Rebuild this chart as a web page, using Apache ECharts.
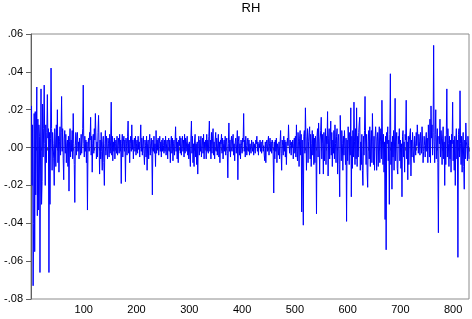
<!DOCTYPE html>
<html>
<head>
<meta charset="utf-8">
<script src="https://cdn.jsdelivr.net/npm/echarts@6/dist/echarts.min.js"></script>
<style>html,body{margin:0;padding:0;background:#fff}#c{width:472px;height:319px}</style>
</head>
<body>
<div id="c"></div>
<script>
const rh001 = [.022,-.02,.012,-.073,-.04,.018,-.055,.019,-.025,.004,.032,-.036,.015,-.033,.012,.006,-.066,-.005,.031,-.03,-.018,.023,-.005,.01,.033,.002,-.02,.012,-.008,.008,.028,.005,.01,-.066,.008,-.03,.005,.042,.01,-.012];
const rh041 = [.008,.002,-.006,-.02,.01,.004,-.01,.012,0,.02,-.008,.006,-.013,.003,.011,-.004,.008,.027,-.002,.01,-.006,-.017,.005,.009,-.003,.007,-.008,.002,.004,-.01,.006,-.023,.003,.01,-.005,.004,-.002,.009,-.006,.018,.002,-.009,-.029,.001,.008,-.004,.006,.008,-.002,.003,-.006,.005,0,-.004,.007,-.003,.004,.01,.033,.002,-.005,.006,-.002,.004,-.008,.003,-.033,0,.005,-.002,.008,.004,.016,-.004,.006,-.013,.002,.007,-.003,.01,.004,.018,.017,-.006,.003,-.005,.008,.017,.002,-.014];
const rh131 = [.004,-.006,.008,-.002,-.012,.003,.006,-.008,-.02,.002,.009,-.004,.006,0,-.006,.005,.002,-.005,.007,-.003,.004,.024,-.004,.006,-.007,.003,-.002,.005,-.006,.002,.004,-.003,.006,-.004,.001,.005,-.003,.007,-.002,.004,-.019,.002,.007,-.005,.003,.006,-.002,.004,-.018,.005,.002,-.004,.006,.014,-.003,.004,-.008,.002,.006,-.002,.012,-.001,.004,-.006,.003,.005,-.002,.006,-.004,.002,.004,-.003,.006,-.001,.003,-.005,.004,.012,-.002,.005,-.004,.002,.006,-.003,-.009,.004,.001,-.005,.006,-.012,.002,.004,-.006,.003,.007,-.004,.002,.005,-.003,-.025,.004,-.002,.006,-.003,.002,-.01,.009,-.003,.004,-.001,.005,-.004,.002,.006,-.002,.003,-.005,.004,-.002,.005,.001,-.003,.004,-.002,.006,-.004,.002,.004,-.006,.003,.005,-.002,.004,-.008,.002,.006,-.003,.005,-.007,.002,.004,-.004,.003,.011,-.002,.005,-.006,.003,-.008,.004,.001,.006,-.003,.005,-.004,.002,.006,-.002,.004,-.005,.007,-.003,.005,-.002,.003,.006,-.004,.002,-.006,.003];
const rh301 = [-.004,-.01,.005,.014,-.003,.006,-.008,.002,-.01,.004,.007,-.005,.002,-.009,.003,-.014,.002,.006,-.004,.004,-.002,.006,-.005,.001,.005,-.003,.007,-.006,.003,0,.004,-.006,.007,-.002,.004,-.003,.006,.014,-.002,.004,-.006,.008,-.003,.005,.01,-.004,.003,-.006,.004,.008,-.002,.005,-.004,.002,.007,-.005,.003,-.008,.004,.002,.007,-.003,.005,-.006,.002,.004,-.002,.006,-.004,.003,.005,-.003,-.016,.002,.013,-.002,.004,-.005,.003,.006,-.002,.004,.007,-.004,.002,-.007,.003,.005,-.003,.002,.009,-.017,.003,.006,-.004,.002,-.006,.004,.001,-.003,.005,.003,.018,-.002,.004,-.005,.006,.001,-.004,.003,.005,-.002,.004,-.004,.002,.003,-.003,.004,0,-.002,.003,-.004,.002,.001,-.003,.004,.002,.006,-.002,.003,-.004,.002,0,.004,-.002,.003,-.003,.002,.004,-.002,.001,-.004,-.007,.003,-.008,.002,.004,-.002,.003,.006,-.004,.002,.005,-.002,.003,-.003,.004,.002,-.005,-.024];
const rh461 = [.003,-.006,.004,-.002,.005,-.008,.002,0,-.004,.003,-.006,.002,.009,-.003,-.012,.004,.001,-.004,.006,-.002,.004,-.005,.003,-.009,.002,.005,.001,.012,.002,-.003,.004,.001,-.004,.003,0,.004,-.006,.002,.005,-.003];
const rh501 = [.006,-.005,.012,-.002,-.007,.008,.003,-.01,.005,.009,-.004,.007,-.034,.004,-.015,-.041,.006,.009,-.003,.021,.006,-.012,.004,.01,-.008,.003,.008,.011,-.006,.007,-.01,.002,.009,-.004,.007,-.009,.005,-.008,.006,.002,-.035,.006,.01,-.005,.013,.003,-.014,.004,.009,.016,-.006,.007,.002,-.014,.008,-.007,.004,.01,-.009,.006,.002,.019,-.015,.005,.01,-.006,.003,.014,-.004,.008,-.01,.004,-.003,.009,-.006,.012,.002,-.008,.006,.01,-.014,.003,.007,-.009,-.026,.017,.004,-.007,.009,.002,-.012,.006,-.004,.009,.001,-.009,.005,-.039,.004,-.007];
const rh601 = [.011,.004,-.009,.008,-.004,.021,-.026,.006,-.011,.009,-.005,.024,.003,-.009,.01,-.006,.021,-.01,.006,-.005,.008,.013,.016,-.012,.003,-.009,.007,-.012,-.02,.006,-.004,.009,.027,.004,-.009,.007,-.013,-.021,.003,.009,-.006,.011,-.01,.004,.009,-.008,.018,.003,-.009,.006,-.012,.004,.011,.006,-.012,.003,.008,-.01,.004,.011,-.008,.003,.01,-.006,.025,.004,-.009,.007,-.013,.003,-.038,.006,-.054,.008,.002,.011,-.007,.004,-.03,.007,.039,-.009,.003,-.022,.006,-.005,.009,-.012,.004,.026,-.007,.003,.008,-.011,-.014,.006,.002,.01,-.007,.004,-.011,.002,-.026,.006,.009,-.005,.003,-.013,.007,.004,.025,-.006,.003,-.017,.006,-.009,.004,.007,.01,-.015];
const rh721 = [.004,-.005,.008,.003,-.006,-.008,.006,.002,-.004,.008,.001,.012,.006,-.003,.007,.003,-.004,.008,.002,-.003,.011,.004,-.008,-.002,.006,.001,-.005,.004,.008,-.002,.005,-.008,.012,.003,-.005,.015,-.008,.022,.005,.012,-.004,.008,.054,.003,-.008,.007,.02,-.006,.004,.01,-.008,-.045,.006,.002,.015,-.005,.009,.004,-.009,.005,.011,-.006,.003,-.02,.006,-.009,.007,.031,-.005,.01,.002,-.01,.006,-.006,.004,-.013,.007,.002,.024,-.007,.004,-.012,.006,-.02,.003,.01,-.006,.004,-.058,.007,.01,-.005,.03,.002,-.009,.006,-.013,.003,.008,-.01,-.022,.004,-.006,.013,.003,0,-.007,.006,.001,-.006];
const rhValues = [].concat(rh001, rh041, rh131, rh301, rh461, rh501, rh601, rh721);
const yTicks = [-0.08, -0.06, -0.04, -0.02, 0, 0.02, 0.04, 0.06];
const xTicks = [100, 200, 300, 400, 500, 600, 700, 800];
const titleText = 'RH';

const seriesData = rhValues.map((v, i) => [i + 1, v]);
const fmtY = v => {
  const s = Math.abs(v).toFixed(2).replace(/^0/, '');
  return (v < -1e-9 ? '-' : '') + s;
};
const chart = echarts.init(document.getElementById('c'), null, {renderer: 'canvas'});
chart.setOption({
  animation: false,
  backgroundColor: '#ffffff',
  title: {
    text: titleText, left: 251, top: 2, padding: 0, textAlign: 'center',
    textStyle: {fontFamily: 'Liberation Sans', fontSize: 13, fontWeight: 'normal', color: '#000'}
  },
  grid: {left: 31, right: 2, top: 34, bottom: 20, show: true, borderColor: '#8c8c8c', borderWidth: 1, backgroundColor: 'transparent'},
  xAxis: {
    type: 'value', min: 0, max: 830, interval: 100,
    axisLine: {show: true, lineStyle: {color: '#606060', width: 1}},
    axisTick: {show: true, inside: false, length: 4, lineStyle: {color: '#606060'}},
    minorTick: {show: true, splitNumber: 10, length: 3, lineStyle: {color: '#606060'}},
    splitLine: {show: false},
    axisLabel: {
      fontFamily: 'Liberation Sans', fontSize: 11, color: '#000', margin: 5,
      formatter: v => (xTicks.indexOf(v) >= 0 ? String(v) : '')
    }
  },
  yAxis: {
    type: 'value', min: yTicks[0], max: yTicks[yTicks.length - 1], interval: 0.02,
    axisLine: {show: true, lineStyle: {color: '#606060', width: 1}},
    axisTick: {show: true, inside: false, length: 5, lineStyle: {color: '#606060'}},
    splitLine: {show: false},
    axisLabel: {fontFamily: 'Liberation Sans', fontSize: 11, color: '#000', margin: 8, formatter: fmtY}
  },
  series: [{
    type: 'line', data: seriesData, showSymbol: false, symbol: 'none',
    lineStyle: {color: '#0000ff', width: 1}, sampling: null, clip: true
  }]
});
</script>
</body>
</html>
